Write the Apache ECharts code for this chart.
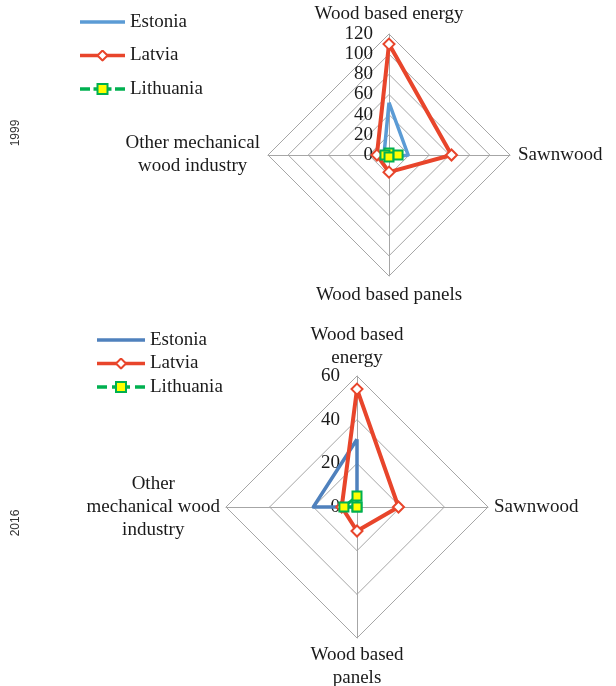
<!DOCTYPE html>
<html><head><meta charset="utf-8">
<script src="https://cdn.jsdelivr.net/npm/echarts@6/dist/echarts.min.js"></script>
<style>html,body{margin:0;padding:0;background:#fff}#c{width:616px;height:686px}</style>
</head><body><div id="c"></div>
<script>
// ---- data ----
const indicators1999 = ['Wood based energy', 'Sawnwood', 'Wood based panels', 'Other mechanical\nwood industry'];
const indicators2016 = ['Wood based\nenergy', 'Sawnwood', 'Wood based\npanels', 'Other\nmechanical wood\nindustry'];
const countries = ['Estonia', 'Latvia', 'Lithuania'];
const estonia1999 = [52, 19, 3, 5];
const latvia1999 = [110, 62, 17, 12];
const lithuania1999 = [2, 9, 2, 4];
const estonia2016 = [31, 0, 0, 20];
const latvia2016 = [54, 19, 11, 7];
const lithuania2016 = [5, 0, 0, 6];
const ticks1999 = [0, 20, 40, 60, 80, 100, 120];
const ticks2016 = [0, 20, 40, 60];
const years = ['1999', '2016'];

// ---- styles ----
const FONT = 'Liberation Serif, Times New Roman, serif';
const TXT = '#1a1a1a';
const GRID = '#a6a6a6';
const BLUE1 = '#5B9BD5', BLUE2 = '#4F81BD', RED = '#E8452B', GREEN = '#00B050', YELLOW = '#FFFF00';

// ECharts places indicators counter-clockwise from top: top, left, bottom, right
const order = [0, 3, 2, 1];
const re = arr => order.map(i => arr[i]);

function svgIcon(inner, w, h) {
  const s = `<svg xmlns='http://www.w3.org/2000/svg' width='${w}' height='${h}' viewBox='0 0 ${w} ${h}'>${inner}</svg>`;
  return 'image://data:image/svg+xml;charset=utf-8,' + encodeURIComponent(s);
}
function icons(blue, w) {
  const h = 12, cy = 6, cx = w / 2;
  return [
    svgIcon(`<line x1='0' y1='${cy}' x2='${w}' y2='${cy}' stroke='${blue}' stroke-width='3.5'/>`, w, h),
    svgIcon(`<line x1='0' y1='${cy}' x2='${w}' y2='${cy}' stroke='${RED}' stroke-width='3.5'/>` +
      `<polygon points='${cx},${cy - 5} ${cx + 5},${cy} ${cx},${cy + 5} ${cx - 5},${cy}' fill='#fff' stroke='${RED}' stroke-width='2'/>`, w, h),
    svgIcon(`<line x1='0' y1='${cy}' x2='10' y2='${cy}' stroke='${GREEN}' stroke-width='3.5'/>` +
      `<line x1='${cx - 9}' y1='${cy}' x2='${cx + 9}' y2='${cy}' stroke='${GREEN}' stroke-width='3.5'/>` +
      `<line x1='${w - 10}' y1='${cy}' x2='${w}' y2='${cy}' stroke='${GREEN}' stroke-width='3.5'/>` +
      `<rect x='${cx - 5}' y='${cy - 5}' width='10' height='10' fill='${YELLOW}' stroke='${GREEN}' stroke-width='2'/>`, w, h)
  ];
}

const nameFmt = n => n.split('\n').map(s => '{c|' + s + '}').join('\n');
function radarCfg(center, radius, names, ticks, gap) {
  return {
    center, radius, startAngle: 90, shape: 'polygon',
    splitNumber: ticks.length - 1,
    indicator: re(names).map(n => ({ name: n, min: ticks[0], max: ticks[ticks.length - 1] })),
    nameGap: gap,
    axisName: {
      formatter: nameFmt,
      rich: { c: { align: 'center', fontFamily: FONT, fontSize: 19, lineHeight: 23, color: TXT } }
    },
    splitLine: { lineStyle: { color: GRID, width: 1 } },
    splitArea: { show: false },
    axisLine: { lineStyle: { color: GRID, width: 1 } },
    axisTick: { show: false },
    axisLabel: { show: false }
  };
}
function seriesCfg(idx, e, l, t, blue) {
  return {
    type: 'radar', radarIndex: idx, silent: true,
    data: [
      { name: countries[0], value: re(e), symbol: 'none', lineStyle: { color: blue, width: 3.5 }, itemStyle: { color: blue } },
      { name: countries[1], value: re(l), symbol: 'diamond', symbolSize: 11,
        lineStyle: { color: RED, width: 4 }, itemStyle: { color: '#fff', borderColor: RED, borderWidth: 2 } },
      { name: countries[2], value: re(t), symbol: 'rect', symbolSize: 9,
        lineStyle: { color: GREEN, width: 3, type: 'dashed' }, itemStyle: { color: YELLOW, borderColor: GREEN, borderWidth: 2 } }
    ]
  };
}
function legendCfg(left, top, w, gap, ic) {
  return {
    orient: 'vertical', left, top, itemWidth: w, itemHeight: 12, itemGap: gap, selectedMode: false,
    data: countries.map((n, i) => ({ name: n, icon: ic[i] })),
    textStyle: { fontFamily: FONT, fontSize: 19, color: TXT, lineHeight: 20 }
  };
}
function yAxisCfg(g, ticks, margin) {
  return {
    type: 'value', gridIndex: g, min: ticks[0], max: ticks[ticks.length - 1], interval: ticks[1] - ticks[0],
    axisLine: { show: false }, axisTick: { show: false }, splitLine: { show: false },
    axisLabel: { margin, fontFamily: FONT, fontSize: 19, color: TXT }
  };
}

const C1 = [389, 155], R1 = 121, C2 = [357, 507], R2 = 131;
const chart = echarts.init(document.getElementById('c'), null, { renderer: 'canvas' });
chart.setOption({
  animation: false,
  backgroundColor: '#fff',
  legend: [legendCfg(75, 7, 45, 13.5, icons(BLUE1, 45)), legendCfg(92, 325, 48, 3.5, icons(BLUE2, 48))],
  radar: [radarCfg(C1, R1, indicators1999, ticks1999, 8), radarCfg(C2, R2, indicators2016, ticks2016, 6)],
  grid: [
    { left: C1[0], top: C1[1] - R1, width: 1, height: R1 },
    { left: C2[0], top: C2[1] - R2, width: 1, height: R2 }
  ],
  xAxis: [{ type: 'value', gridIndex: 0, show: false }, { type: 'value', gridIndex: 1, show: false }],
  yAxis: [yAxisCfg(0, ticks1999, 16), yAxisCfg(1, ticks2016, 17)],
  graphic: [
    { type: 'text', x: 16, y: 133, rotation: Math.PI / 2, style: { text: years[0], fontFamily: 'Liberation Sans, Arial, sans-serif', fontSize: 12, fill: '#333', align: 'center', verticalAlign: 'middle' } },
    { type: 'text', x: 16, y: 523, rotation: Math.PI / 2, style: { text: years[1], fontFamily: 'Liberation Sans, Arial, sans-serif', fontSize: 12, fill: '#333', align: 'center', verticalAlign: 'middle' } }
  ],
  series: [
    seriesCfg(0, estonia1999, latvia1999, lithuania1999, BLUE1),
    seriesCfg(1, estonia2016, latvia2016, lithuania2016, BLUE2)
  ]
});
</script>
</body></html>
